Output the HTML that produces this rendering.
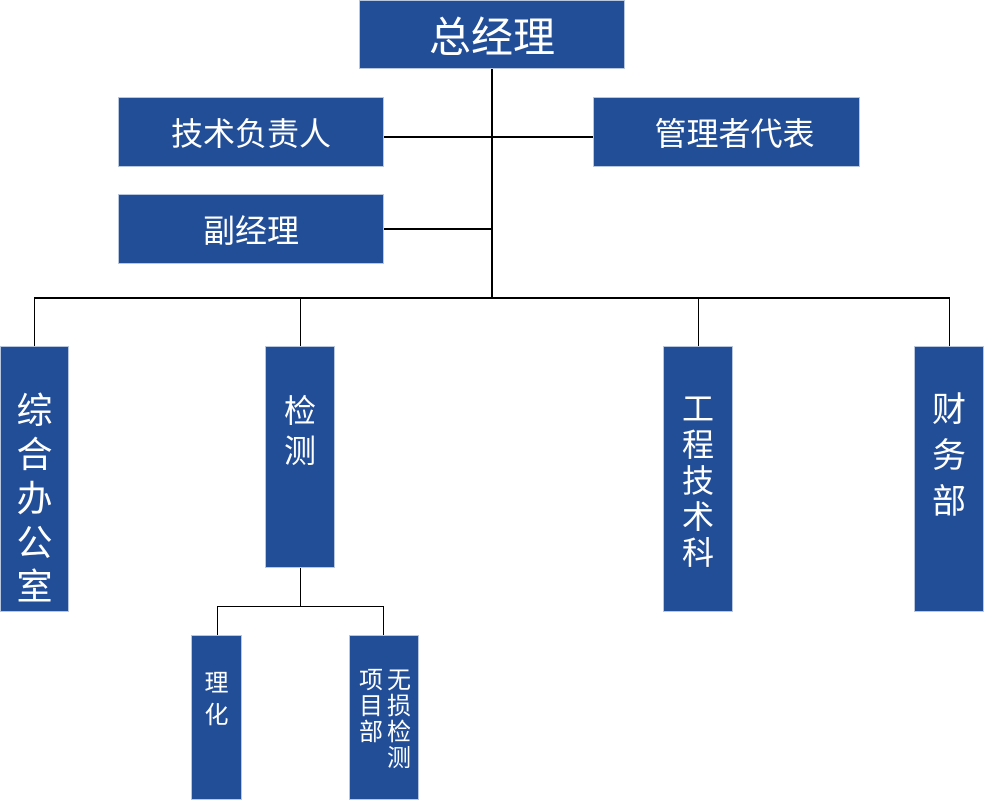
<!DOCTYPE html>
<html><head><meta charset="utf-8"><style>
body{margin:0;width:984px;height:800px;background:#fff;position:relative;overflow:hidden;font-family:"Liberation Sans","Noto Sans CJK SC",sans-serif;}
.b{position:absolute;background:#224e98;color:#fff;box-sizing:border-box;border:1px solid #b8c6de;display:flex;align-items:center;justify-content:center;}
.l{position:absolute;background:#000;}
.c{position:absolute;color:#fff;width:24px;font-size:24px;line-height:26px;text-align:center;}
</style></head><body>
<div class="l" style="left:491px;top:68px;width:2px;height:231px"></div>
<div class="l" style="left:383px;top:136px;width:211px;height:2px"></div>
<div class="l" style="left:383px;top:228px;width:109px;height:2px"></div>
<div class="l" style="left:34px;top:297px;width:916px;height:1.5px"></div>
<div class="l" style="left:34px;top:297px;width:1px;height:50px"></div>
<div class="l" style="left:300px;top:297px;width:1px;height:50px"></div>
<div class="l" style="left:698px;top:297px;width:1px;height:50px"></div>
<div class="l" style="left:949px;top:297px;width:1px;height:50px"></div>
<div class="l" style="left:300px;top:567px;width:1px;height:40px"></div>
<div class="l" style="left:217px;top:606px;width:167px;height:1px"></div>
<div class="l" style="left:217px;top:606px;width:1px;height:30px"></div>
<div class="l" style="left:383px;top:606px;width:1px;height:30px"></div>

<div class="b" style="left:359px;top:0;width:266px;height:69px;font-size:42px">总经理</div>
<div class="b" style="left:118px;top:97px;width:266px;height:70px;font-size:32px">技术负责人</div>
<div class="b" style="left:593px;top:97px;width:267px;height:70px;font-size:32px;padding-left:16px">管理者代表</div>
<div class="b" style="left:118px;top:194px;width:266px;height:70px;font-size:32px">副经理</div>

<div class="b" style="left:0;top:346px;width:69px;height:266px;align-items:flex-start;font-size:36px"><div style="width:36px;line-height:44px;margin-top:42px;text-align:center">综合办公室</div></div>
<div class="b" style="left:265px;top:346px;width:70px;height:222px;align-items:flex-start;font-size:32px"><div style="width:32px;line-height:40px;margin-top:44px">检测</div></div>
<div class="b" style="left:663px;top:346px;width:70px;height:266px;align-items:flex-start;font-size:32px"><div style="width:32px;line-height:36px;margin-top:44px">工程技术科</div></div>
<div class="b" style="left:914px;top:346px;width:70px;height:266px;align-items:flex-start;font-size:34px"><div style="width:34px;line-height:46px;margin-top:40px">财务部</div></div>

<div class="b" style="left:191px;top:635px;width:51px;height:165px;align-items:flex-start;font-size:24px"><div style="width:24px;line-height:32px;margin-top:32px">理化</div></div>
<div class="b" style="left:349px;top:635px;width:70px;height:165px"></div>
<div class="c" style="left:387px;top:668px">无损检测</div>
<div class="c" style="left:359px;top:668px">项目部</div>
</body></html>
